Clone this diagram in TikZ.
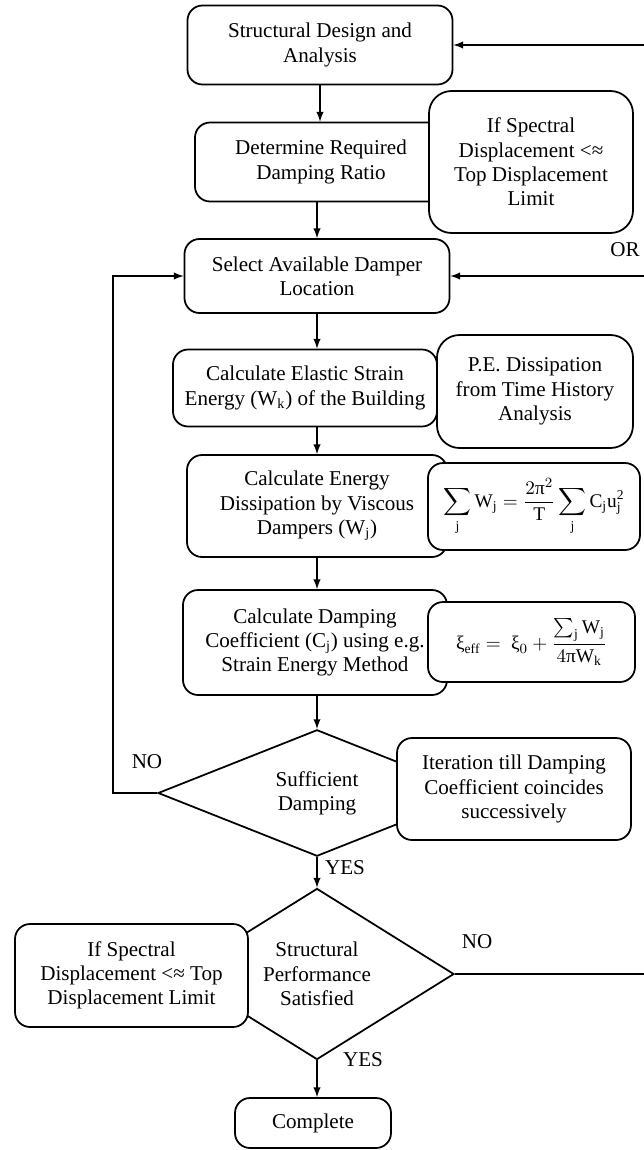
\documentclass[tikz,border=0pt]{standalone}
\usepackage{amsmath}
\usepackage{amssymb}
\usepackage{fontspec}
\setmainfont{Liberation Serif}
\usepackage{tikz}
\usetikzlibrary{shapes,arrows,positioning,calc}

\begin{document}
\begin{tikzpicture}[
    font=\fontsize{12}{13.8}\selectfont,
    >=latex,
    box/.style={draw, line width=1pt, rounded corners=0.3cm, align=center, fill=white, inner sep=2pt},
    sidebox/.style={box, rounded corners=0.45cm},
    formula/.style={box, font=\fontsize{11}{13}\selectfont},
    decision/.style={draw, line width=1pt, diamond, align=center, inner sep=0pt},
    flow/.style={->, line width=0.9pt}
  ]
  \useasboundingbox (0,0) rectangle (12.88,-23);

  % Main column
  \node[box, minimum width=5.3cm, minimum height=1.58cm] (design) at (6.4,-0.9) {Structural Design and\\Analysis};
  \node[box, minimum width=5.04cm, minimum height=1.58cm] (required) at (6.42,-3.24) {Determine Required\\Damping Ratio};
  \node[box, minimum width=5.3cm, minimum height=1.48cm] (select) at (6.34,-5.52) {Select Available Damper\\Location};
  \node[box, minimum width=5.28cm, minimum height=1.54cm] (elastic) at (6.1,-7.76) {Calculate Elastic Strain\\Energy (W\textsubscript{k}) of the Building};
  \node[box, minimum width=5.2cm, minimum height=2.04cm] (energy) at (6.34,-10.12) {Calculate Energy\\Dissipation by Viscous\\Dampers (W\textsubscript{j})};
  \node[box, minimum width=5.28cm, minimum height=2.1cm] (damping) at (6.3,-12.85) {Calculate Damping\\Coefficient (C\textsubscript{j}) using e.g.\\Strain Energy Method};
  \node[decision, minimum width=6.36cm, minimum height=2.52cm] (suff) at (6.34,-15.86) {Sufficient\\Damping};
  \node[decision, minimum width=5.48cm, minimum height=3.36cm] (perf) at (6.34,-19.48) {Structural\\Performance\\Satisfied};
  \node[box, minimum width=3.12cm, minimum height=1.0cm] (complete) at (6.26,-22.46) {Complete};

  % Side notes
  \node[sidebox, minimum width=4.08cm, minimum height=2.84cm] (spec1) at (10.62,-3.24) {If Spectral\\Displacement <≈\\Top Displacement\\Limit};
  \node[sidebox, minimum width=3.92cm, minimum height=2.26cm] (pe) at (10.7,-7.83) {P.E. Dissipation\\from Time History\\Analysis};
  \node[formula, minimum width=4.24cm, minimum height=1.74cm] (wsum) at (10.68,-10.13)
    {$\displaystyle\sum_{\mathrm{j}}\mathrm{W_j}=\frac{2\text{π}^2}{\mathrm{T}}\sum_{\mathrm{j}}\mathrm{C_j u_j^2}$};
  \node[formula, minimum width=4.14cm, minimum height=1.6cm] (xieff) at (10.63,-12.84)
    {$\text{ξ}_{\mathrm{eff}}=\ \text{ξ}_0+\dfrac{\sum_{\mathrm{j}}\mathrm{W_j}}{4\text{π}\mathrm{W_k}}$};
  \node[box, minimum width=4.68cm, minimum height=2.04cm] (iter) at (10.28,-15.78) {Iteration till Damping\\Coefficient coincides\\successively};
  \node[box, minimum width=4.66cm, minimum height=2.06cm] (spec2) at (2.63,-19.51) {If Spectral\\Displacement <≈ Top\\Displacement Limit};

  % Flow
  \draw[flow] (design.south) -- (design.south |- required.north);
  \draw[flow] (select.north |- required.south) -- (select.north);
  \draw[flow] (select.south) -- (select.south |- elastic.north);
  \draw[flow] (energy.north |- elastic.south) -- (energy.north);
  \draw[flow] (energy.south) -- (energy.south |- damping.north);
  \draw[flow] (suff.north |- damping.south) -- (suff.north);
  \draw[flow] (suff.south) -- (perf.north);
  \draw[flow] (perf.south) -- (perf.south |- complete.north);

  % Loops back
  \coordinate (back) at (2.26,0);
  \coordinate (ret) at (13.0,0);
  \draw[flow] (suff.west) -- (suff.west -| back) -- (back |- select.west) -- (select.west);
  \draw[flow] (perf.east) -- (perf.east -| ret) -- (ret |- design.east) -- (design.east);
  \draw[flow] (ret |- select.east) -- (select.east);

  % Labels
  \node (no1) at (2.94,-15.24) {NO};
  \node (yes1) at (6.9,-17.36) {YES};
  \node (no2) at (9.54,-18.84) {NO};
  \node (yes2) at (7.26,-21.2) {YES};
  \node (or) at (12.5,-5.0) {OR};
\end{tikzpicture}
\end{document}
